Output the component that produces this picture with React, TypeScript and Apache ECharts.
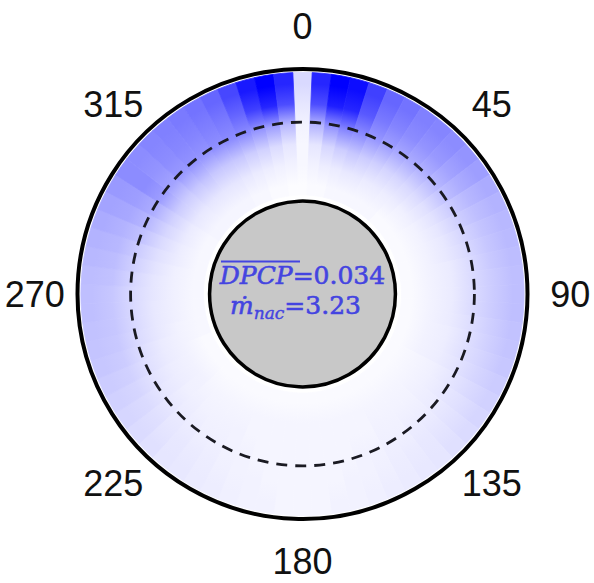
import { useEffect, useRef } from 'react';
import * as echarts from 'echarts';

// Angular positions of the heat-map cells (degrees, clockwise from top)
const ANGLES = [
  0, 5, 10, 15, 20, 25, 30, 35, 40, 45, 50, 55,
  60, 65, 70, 75, 80, 85, 90, 95, 100, 105, 110, 115,
  120, 125, 130, 135, 140, 145, 150, 155, 160, 165, 170, 175,
  180, 185, 190, 195, 200, 205, 210, 215, 220, 225, 230, 235,
  240, 245, 250, 255, 260, 265, 270, 275, 280, 285, 290, 295,
  300, 305, 310, 315, 320, 325, 330, 335, 340, 345, 350, 355,
];
const ANGLE_STEP = 5;

// Radial positions (normalised, outer wall = 1) of the sampled rings
const RING_RADII = [0.485, 0.575, 0.665, 0.755, 0.845, 0.935];
const HEAT_INNER = 0.44;
const HEAT_OUTER = 0.985;

// Normalised intensity per ring (inner -> outer), one value per angle
const RING0 = [
  0.01, 0.02, 0.02, 0.03, 0.03, 0.03, 0.03, 0.03, 0.03, 0.02, 0.02, 0.02,
  0.02, 0.02, 0.02, 0.02, 0.02, 0.02, 0.02, 0.02, 0.02, 0.02, 0.02, 0.02,
  0.02, 0.02, 0.02, 0.02, 0.02, 0.02, 0.02, 0.02, 0.02, 0.02, 0.02, 0.02,
  0.02, 0.02, 0.02, 0.02, 0.02, 0.02, 0.02, 0.02, 0.02, 0.02, 0.02, 0.02,
  0.02, 0.02, 0.03, 0.03, 0.03, 0.03, 0.03, 0.03, 0.03, 0.03, 0.03, 0.03,
  0.03, 0.04, 0.04, 0.04, 0.04, 0.04, 0.04, 0.03, 0.03, 0.02, 0.02, 0.01,
];
const RING1 = [
  0.03, 0.05, 0.07, 0.08, 0.09, 0.09, 0.08, 0.08, 0.07, 0.07, 0.06, 0.06,
  0.05, 0.05, 0.05, 0.05, 0.05, 0.05, 0.05, 0.05, 0.05, 0.05, 0.05, 0.05,
  0.04, 0.04, 0.04, 0.04, 0.04, 0.04, 0.04, 0.04, 0.04, 0.04, 0.04, 0.04,
  0.04, 0.04, 0.04, 0.04, 0.04, 0.04, 0.04, 0.04, 0.04, 0.04, 0.05, 0.05,
  0.05, 0.05, 0.05, 0.05, 0.06, 0.06, 0.06, 0.06, 0.06, 0.07, 0.07, 0.08,
  0.08, 0.09, 0.09, 0.1, 0.1, 0.1, 0.1, 0.09, 0.08, 0.07, 0.06, 0.05,
];
const RING2 = [
  0.03, 0.1, 0.16, 0.2, 0.22, 0.2, 0.19, 0.17, 0.16, 0.15, 0.14, 0.12,
  0.11, 0.1, 0.09, 0.09, 0.08, 0.08, 0.08, 0.08, 0.08, 0.07, 0.07, 0.07,
  0.06, 0.06, 0.06, 0.05, 0.05, 0.05, 0.05, 0.04, 0.04, 0.04, 0.04, 0.04,
  0.04, 0.04, 0.04, 0.04, 0.04, 0.05, 0.05, 0.05, 0.05, 0.06, 0.06, 0.07,
  0.07, 0.08, 0.08, 0.09, 0.09, 0.09, 0.1, 0.1, 0.11, 0.12, 0.14, 0.16,
  0.18, 0.2, 0.2, 0.22, 0.23, 0.22, 0.22, 0.22, 0.2, 0.18, 0.14, 0.1,
];
const RING3 = [
  0.05, 0.3, 0.42, 0.48, 0.45, 0.4, 0.37, 0.34, 0.32, 0.3, 0.27, 0.24,
  0.2, 0.18, 0.16, 0.15, 0.14, 0.14, 0.14, 0.14, 0.13, 0.12, 0.12, 0.11,
  0.1, 0.09, 0.08, 0.07, 0.07, 0.06, 0.06, 0.05, 0.05, 0.04, 0.04, 0.04,
  0.04, 0.04, 0.04, 0.04, 0.05, 0.05, 0.06, 0.06, 0.07, 0.08, 0.09, 0.1,
  0.11, 0.12, 0.13, 0.14, 0.15, 0.15, 0.15, 0.16, 0.18, 0.2, 0.24, 0.28,
  0.32, 0.38, 0.36, 0.4, 0.42, 0.42, 0.44, 0.45, 0.45, 0.42, 0.38, 0.28,
];
const RING4 = [
  0.1, 0.7, 0.88, 0.85, 0.65, 0.52, 0.48, 0.45, 0.42, 0.4, 0.36, 0.32,
  0.28, 0.25, 0.23, 0.22, 0.21, 0.2, 0.2, 0.2, 0.19, 0.18, 0.17, 0.16,
  0.14, 0.12, 0.11, 0.1, 0.09, 0.08, 0.07, 0.06, 0.05, 0.05, 0.04, 0.04,
  0.04, 0.04, 0.04, 0.05, 0.05, 0.06, 0.07, 0.08, 0.09, 0.1, 0.12, 0.14,
  0.16, 0.18, 0.2, 0.21, 0.22, 0.22, 0.22, 0.24, 0.26, 0.28, 0.3, 0.34,
  0.38, 0.45, 0.42, 0.45, 0.47, 0.48, 0.5, 0.52, 0.6, 0.75, 0.85, 0.7,
];
const RING5 = [
  0.15, 0.85, 1.0, 0.95, 0.75, 0.6, 0.55, 0.5, 0.48, 0.45, 0.42, 0.38,
  0.33, 0.3, 0.28, 0.27, 0.26, 0.25, 0.25, 0.25, 0.24, 0.23, 0.22, 0.2,
  0.18, 0.16, 0.14, 0.12, 0.1, 0.09, 0.08, 0.07, 0.06, 0.05, 0.05, 0.04,
  0.04, 0.04, 0.05, 0.05, 0.06, 0.07, 0.08, 0.09, 0.1, 0.12, 0.14, 0.16,
  0.18, 0.2, 0.22, 0.23, 0.24, 0.25, 0.25, 0.26, 0.28, 0.3, 0.33, 0.36,
  0.4, 0.45, 0.45, 0.48, 0.5, 0.52, 0.55, 0.6, 0.72, 0.9, 1.0, 0.85,
];

// Geometry of reference circles (normalised radius)
const HUB_RADIUS = 0.413;
const DASHED_RADIUS = 0.764;
const LABEL_RADIUS = 1.19;

// Angular tick labels
const TICK_ANGLES = [0, 45, 90, 135, 180, 225, 270, 315];
const TICK_LABELS = ['0', '45', '90', '135', '180', '225', '270', '315'];

// Annotation
const DPCP_TEXT = 'DPCP';
const DPCP_VALUE = '=0.034';
const MDOT_TEXT = 'ṁ';
const MDOT_SUB = 'nac';
const MDOT_VALUE = '=3.23';

const CX = 302.5;
const CY = 294;
const R_PX = 225;
const TEXT_BLUE = '#4444e0';

function blueMap(v: number): string {
  const t = Math.max(0, Math.min(1, v));
  const c = Math.round(255 * (1 - t));
  return `rgb(${c},${c},255)`;
}

export default function App() {
  const ref = useRef<HTMLDivElement>(null);

  useEffect(() => {
    if (!ref.current) return;
    const chart = echarts.init(ref.current, undefined, { renderer: 'svg' });

    const rings = [RING0, RING1, RING2, RING3, RING4, RING5];
    const heatData = ANGLES.map((a, i) => [HEAT_OUTER, a, ...rings.map((r) => r[i])]);

    const textBase = {
      fontFamily: 'DejaVu Serif',
      fontSize: 25,
      fill: TEXT_BLUE,
      stroke: TEXT_BLUE,
      lineWidth: 0.6,
    };

    const option: any = {
      animation: false,
      backgroundColor: '#ffffff',
      polar: { center: [CX, CY], radius: R_PX },
      angleAxis: {
        type: 'value',
        min: 0,
        max: 360,
        interval: 45,
        startAngle: 90,
        clockwise: true,
        axisLine: { show: true, lineStyle: { color: '#000', width: 4 } },
        axisTick: { show: false },
        axisLabel: { show: false },
        splitLine: { show: false },
      },
      radiusAxis: {
        type: 'value',
        min: 0,
        max: 1,
        axisLine: { show: false },
        axisTick: { show: false },
        axisLabel: { show: false },
        splitLine: { show: false },
      },
      series: [
        {
          type: 'custom',
          name: 'heat',
          coordinateSystem: 'polar',
          clip: false,
          silent: true,
          dimensions: ['radius', 'angle', 'v0', 'v1', 'v2', 'v3', 'v4', 'v5'],
          encode: { radius: 0, angle: 1 },
          data: heatData,
          z: 1,
          renderItem: (params: any, api: any) => {
            const cx = params.coordSys.cx;
            const cy = params.coordSys.cy;
            const angle = api.value(1);
            const half = ANGLE_STEP / 2;
            const pIn = api.coord([HEAT_INNER, angle]);
            const pOut = api.coord([HEAT_OUTER, angle]);
            const pA = api.coord([HEAT_OUTER, angle - half]);
            const pB = api.coord([HEAT_OUTER, angle + half]);
            const r0 = Math.hypot(pIn[0] - cx, pIn[1] - cy);
            const r = Math.hypot(pOut[0] - cx, pOut[1] - cy);
            const a0 = Math.atan2(pA[1] - cy, pA[0] - cx);
            let a1 = Math.atan2(pB[1] - cy, pB[0] - cx);
            if (a1 < a0) a1 += Math.PI * 2;
            const stops = RING_RADII.map((rr, k) => {
              const p = api.coord([rr, angle]);
              const rp = Math.hypot(p[0] - cx, p[1] - cy);
              return { offset: rp / r, color: blueMap(api.value(2 + k)) };
            });
            const grad = new echarts.graphic.RadialGradient(cx, cy, r, stops, true);
            return {
              type: 'sector',
              shape: { cx, cy, r0, r, startAngle: a0, endAngle: a1, clockwise: true },
              style: { fill: grad, stroke: grad, lineWidth: 0.8 },
            };
          },
        },
        {
          type: 'custom',
          name: 'circles',
          coordinateSystem: 'polar',
          clip: false,
          silent: true,
          dimensions: ['radius', 'angle'],
          encode: { radius: 0, angle: 1 },
          data: [
            [HUB_RADIUS, 0],
            [DASHED_RADIUS, 0],
          ],
          z: 3,
          renderItem: (params: any, api: any) => {
            const cx = params.coordSys.cx;
            const cy = params.coordSys.cy;
            const p = api.coord([api.value(0), 0]);
            const rad = Math.hypot(p[0] - cx, p[1] - cy);
            if (params.dataIndex === 0) {
              return {
                type: 'circle',
                shape: { cx, cy, r: rad },
                style: { fill: '#c8c8c8', stroke: '#000', lineWidth: 3.5 },
              };
            }
            return {
              type: 'circle',
              shape: { cx, cy, r: rad },
              style: { fill: 'none', stroke: '#1a1a22', lineWidth: 2.8, lineDash: [11, 8] },
            };
          },
        },
        {
          type: 'custom',
          name: 'labels',
          coordinateSystem: 'polar',
          clip: false,
          silent: true,
          dimensions: ['radius', 'angle'],
          encode: { radius: 0, angle: 1 },
          data: TICK_ANGLES.map((a) => [LABEL_RADIUS, a]),
          z: 4,
          renderItem: (params: any, api: any) => {
            const p = api.coord([api.value(0), api.value(1)]);
            return {
              type: 'text',
              x: p[0],
              y: p[1],
              style: {
                text: TICK_LABELS[params.dataIndex],
                fontSize: 36,
                fontFamily: 'Liberation Sans, Arial, sans-serif',
                fill: '#111',
                align: 'center',
                verticalAlign: 'middle',
              },
            };
          },
        },
      ],
      graphic: [
        {
          type: 'text',
          x: CX,
          y: 275,
          z: 100,
          style: {
            text: `{i|${DPCP_TEXT}}{n|${DPCP_VALUE}}`,
            align: 'center',
            verticalAlign: 'middle',
            ...textBase,
            rich: {
              i: { ...textBase, fontStyle: 'italic' },
              n: { ...textBase },
            },
          },
        },
        {
          type: 'line',
          z: 100,
          shape: { x1: 221, y1: 261.5, x2: 300, y2: 261.5 },
          style: { stroke: TEXT_BLUE, lineWidth: 1.8 },
        },
        {
          type: 'text',
          x: 295.5,
          y: 305,
          z: 100,
          style: {
            text: `{i|${MDOT_TEXT}}{s|${MDOT_SUB}}{n|${MDOT_VALUE}}`,
            align: 'center',
            verticalAlign: 'middle',
            ...textBase,
            rich: {
              i: { ...textBase, fontStyle: 'italic' },
              s: { ...textBase, fontStyle: 'italic', fontSize: 17, lineWidth: 0.4, padding: [16, 0, 0, 0] },
              n: { ...textBase },
            },
          },
        },
      ],
    };

    chart.setOption(option);
    return () => chart.dispose();
  }, []);

  return (
    <div
      ref={ref}
      style={{ position: 'absolute', left: 0, top: 0, width: 594, height: 583, background: '#fff' }}
    />
  );
}
